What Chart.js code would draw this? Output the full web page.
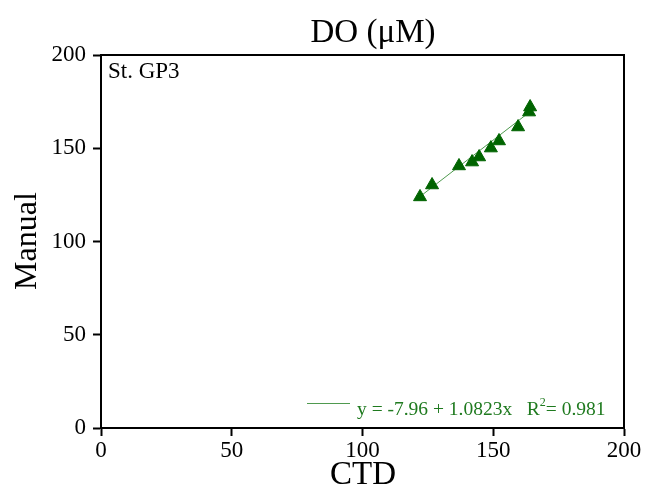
<!DOCTYPE html>
<html>
<head>
<meta charset="utf-8">
<script src="https://cdn.jsdelivr.net/npm/chart.js@4.4.1/dist/chart.umd.min.js"></script>
<style>
  html, body { margin: 0; padding: 0; background: #ffffff; }
  #wrap { width: 646px; height: 491px; position: relative; }
</style>
</head>
<body>
<div id="wrap"><canvas id="c" width="646" height="491"></canvas></div>
<script>
// Data
const ctdValues    = [122.0, 126.6, 136.9, 141.9, 144.6, 149.1, 152.2, 159.5, 164.1, 163.7];
const manualValues = [123.9, 130.3, 140.5, 142.6, 145.3, 150.1, 153.9, 161.4, 172.1, 169.4];
const fitLineX = [122, 165];
const fitLineY = [124.1, 170.6];
const xTicks = [0, 50, 100, 150, 200];
const yTicks = [0, 50, 100, 150, 200];
const chartTitle = 'DO (\u03bcM)';
const xTitle = 'CTD';
const yTitle = 'Manual';
const stationLabel = 'St. GP3';
const eqText = 'y = -7.96 + 1.0823x   R';
const r2Text = '= 0.981';

const SERIF = '"Liberation Serif", "DejaVu Serif", serif';
const MARK = '#006400';
const FITC = '#4f9a4f';
const TEXTG = '#1f7a1f';

const points = ctdValues.map((x, i) => ({ x: x, y: manualValues[i] }));
const fitPts = fitLineX.map((x, i) => ({ x: x, y: fitLineY[i] }));

const decor = {
  id: 'decor',
  afterDraw(chart) {
    const ctx = chart.ctx;
    const a = chart.chartArea;
    ctx.save();
    // frame
    ctx.strokeStyle = '#000';
    ctx.lineWidth = 2;
    ctx.strokeRect(a.left, a.top, a.right - a.left, a.bottom - a.top);
    // title
    ctx.fillStyle = '#000';
    ctx.textAlign = 'center';
    ctx.textBaseline = 'middle';
    ctx.font = '33px ' + SERIF;
    ctx.fillText(chartTitle, 373, 33);
    // x title
    ctx.font = '33px ' + SERIF;
    ctx.fillText(xTitle, 363, 475);
    // y title
    ctx.save();
    ctx.translate(28, 241);
    ctx.rotate(-Math.PI / 2);
    ctx.font = '32px ' + SERIF;
    ctx.fillText(yTitle, 0, 0);
    ctx.restore();
    // station label
    ctx.textAlign = 'left';
    ctx.font = '23px ' + SERIF;
    ctx.fillText(stationLabel, 108, 72);
    // legend
    ctx.strokeStyle = FITC;
    ctx.lineWidth = 1;
    ctx.beginPath();
    ctx.moveTo(307, 403.5);
    ctx.lineTo(350, 403.5);
    ctx.stroke();
    ctx.fillStyle = TEXTG;
    ctx.font = '19.5px ' + SERIF;
    ctx.textBaseline = 'alphabetic';
    let x = 357;
    ctx.fillText(eqText, x, 415);
    x += ctx.measureText(eqText).width;
    ctx.font = '12px ' + SERIF;
    ctx.fillText('2', x, 406);
    x += ctx.measureText('2').width;
    ctx.font = '19.5px ' + SERIF;
    ctx.fillText(r2Text, x, 415);
    ctx.restore();
  }
};

new Chart(document.getElementById('c'), {
  type: 'scatter',
  data: {
    datasets: [
      {
        type: 'line',
        data: fitPts,
        borderColor: FITC,
        borderWidth: 1,
        pointRadius: 0,
        fill: false,
        order: 2
      },
      {
        data: points,
        pointStyle: 'triangle',
        pointRadius: 7.5,
        backgroundColor: MARK,
        borderColor: MARK,
        borderWidth: 1,
        order: 1
      }
    ]
  },
  plugins: [decor],
  options: {
    responsive: false,
    animation: false,
    devicePixelRatio: 1,
    layout: { padding: { top: 55, right: 22, left: 0, bottom: 0 } },
    plugins: { legend: { display: false }, tooltip: { enabled: false }, title: { display: false } },
    scales: {
      x: {
        type: 'linear',
        min: 0, max: 200,
        afterBuildTicks(s) { s.ticks = xTicks.map(v => ({ value: v })); },
        afterFit(s) { s.height = 63; },
        border: { display: true, color: '#000', width: 2 },
        grid: { drawOnChartArea: false, drawTicks: true, tickLength: 8, color: '#000', tickWidth: 2 },
        ticks: { color: '#000', font: { family: SERIF, size: 23 }, padding: 1, maxRotation: 0 }
      },
      y: {
        type: 'linear',
        min: 0, max: 200,
        afterBuildTicks(s) { s.ticks = yTicks.map(v => ({ value: v })); },
        afterFit(s) { s.width = 101; },
        border: { display: true, color: '#000', width: 2 },
        grid: { drawOnChartArea: false, drawTicks: true, tickLength: 8, color: '#000', tickWidth: 2 },
        ticks: { color: '#000', font: { family: SERIF, size: 23 }, padding: 7 }
      }
    }
  }
});
</script>
</body>
</html>
